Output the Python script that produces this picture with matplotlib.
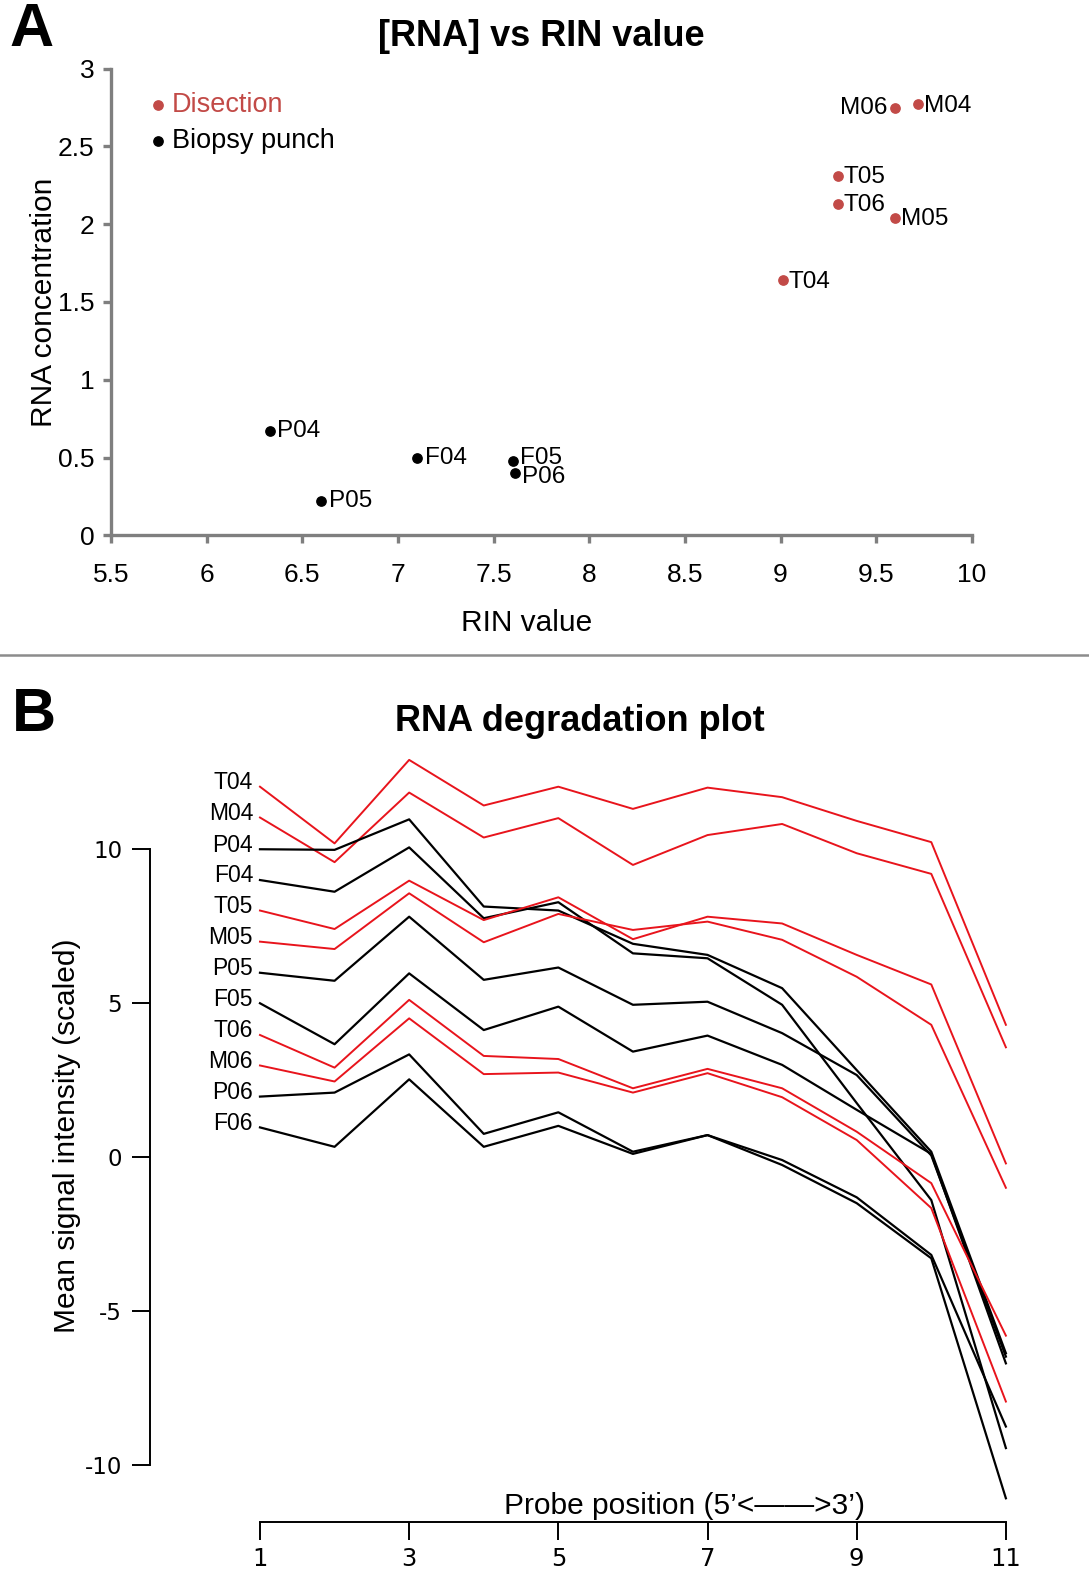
import matplotlib
matplotlib.use('Agg')
import matplotlib.pyplot as plt
from matplotlib.lines import Line2D

plt.rcParams['font.family'] = ['Liberation Sans', 'DejaVu Sans']
plt.rcParams['axes.unicode_minus'] = False

# ---- panel A: [RNA] vs RIN ----
diss_names = ['M06', 'M04', 'T05', 'T06', 'M05', 'T04']
diss_rin = [9.60, 9.72, 9.30, 9.30, 9.60, 9.01]
diss_conc = [2.75, 2.77, 2.31, 2.13, 2.04, 1.64]

punch_names = ['P04', 'F04', 'F05', 'P06', 'P05']
punch_rin = [6.33, 7.10, 7.60, 7.61, 6.60]
punch_conc = [0.67, 0.50, 0.48, 0.40, 0.22]

# ---- panel B: degradation plot ----
probe_pos = [1, 2, 3, 4, 5, 6, 7, 8, 9, 10, 11]
t04 = [12.02, 10.18, 12.89, 11.41, 12.02, 11.30, 11.99, 11.68, 10.91, 10.22, 4.29]
m04 = [11.02, 9.57, 11.83, 10.37, 11.00, 9.48, 10.45, 10.81, 9.86, 9.19, 3.56]
p04 = [9.99, 9.97, 10.96, 8.13, 8.00, 6.92, 6.56, 5.48, 2.82, 0.17, -6.37]
f04 = [8.99, 8.61, 10.05, 7.75, 8.27, 6.61, 6.45, 4.94, 1.75, -1.40, -9.45]
t05 = [8.00, 7.40, 8.97, 7.69, 8.43, 7.07, 7.80, 7.58, 6.56, 5.60, -0.21]
m05 = [6.99, 6.75, 8.56, 6.97, 7.89, 7.37, 7.64, 7.05, 5.85, 4.29, -1.00]
p05 = [5.98, 5.72, 7.80, 5.75, 6.15, 4.94, 5.04, 4.02, 2.66, 0.05, -6.48]
f05 = [4.99, 3.66, 5.96, 4.12, 4.88, 3.42, 3.94, 2.99, 1.53, 0.10, -6.70]
t06 = [3.96, 2.90, 5.10, 3.28, 3.18, 2.23, 2.86, 2.23, 0.82, -0.85, -5.80]
m06 = [2.97, 2.45, 4.50, 2.69, 2.74, 2.09, 2.72, 1.94, 0.55, -1.66, -7.94]
p06 = [1.96, 2.09, 3.33, 0.75, 1.45, 0.17, 0.71, -0.10, -1.31, -3.18, -8.75]
f06 = [0.96, 0.33, 2.52, 0.33, 1.01, 0.10, 0.71, -0.26, -1.50, -3.29, -11.08]

series = [('T04', t04), ('M04', m04), ('P04', p04), ('F04', f04),
          ('T05', t05), ('M05', m05), ('P05', p05), ('F05', f05),
          ('T06', t06), ('M06', m06), ('P06', p06), ('F06', f06)]

RED_A = '#c24a47'
RED_B = '#e8141c'
GREY = '#7f7f7f'

fig = plt.figure(figsize=(10.89, 15.70), dpi=100)

# ===== panel A =====
axA = fig.add_axes([0.1019, 0.659, 0.7906, 0.2973])
axA.scatter(diss_rin, diss_conc, s=45, color=RED_A, zorder=3, label='Disection')
axA.scatter(punch_rin, punch_conc, s=45, color='black', zorder=3, label='Biopsy punch')

for name, x, y in zip(diss_names, diss_rin, diss_conc):
    if name == 'M06':
        axA.annotate(name, (x, y), xytext=(-6, 0), textcoords='offset points',
                     ha='right', va='center', fontsize=17.5)
    else:
        axA.annotate(name, (x, y), xytext=(4, -1), textcoords='offset points',
                     ha='left', va='center', fontsize=17.5)
for name, x, y in zip(punch_names, punch_rin, punch_conc):
    dy = {'F05': 2, 'P06': -3}.get(name, 0)
    axA.annotate(name, (x, y), xytext=(5.5, dy), textcoords='offset points',
                 ha='left', va='center', fontsize=17.5)

axA.set_xlim(5.5, 10)
axA.set_ylim(0, 3)
axA.set_xticks([5.5, 6, 6.5, 7, 7.5, 8, 8.5, 9, 9.5, 10])
axA.set_xticklabels(['5.5', '6', '6.5', '7', '7.5', '8', '8.5', '9', '9.5', '10'])
axA.set_yticks([0, 0.5, 1, 1.5, 2, 2.5, 3])
axA.set_yticklabels(['0', '0.5', '1', '1.5', '2', '2.5', '3'])
for s in ['top', 'right']:
    axA.spines[s].set_visible(False)
for s in ['left', 'bottom']:
    axA.spines[s].set_color(GREY)
    axA.spines[s].set_linewidth(2.4)
axA.tick_params(axis='both', colors=GREY, labelcolor='black', labelsize=19,
                length=6, width=2.4)
axA.tick_params(axis='x', pad=14)
axA.tick_params(axis='y', pad=6)
axA.set_xlabel('RIN value', fontsize=21.5)
axA.xaxis.set_label_coords(0.483, -0.157)
axA.set_ylabel('RNA concentration', fontsize=21.5)
axA.yaxis.set_label_coords(-0.062, 0.5)
axA.set_title('[RNA] vs RIN value', fontsize=26, fontweight='bold', pad=16)
axA.legend(loc='upper left', bbox_to_anchor=(0.047, 0.95), frameon=False,
           fontsize=19.5, handlelength=0.5, handletextpad=0.25, borderpad=0,
           borderaxespad=0, labelspacing=0.38, markerscale=1.0,
           labelcolor=[RED_A, 'black'])

# separator line and panel letters
fig.add_artist(Line2D([0, 1], [0.5828, 0.5828], transform=fig.transFigure,
                      color='#8c8c8c', linewidth=1.8))
fig.text(0.009, 0.9985, 'A', fontsize=44, fontweight='bold', va='top', ha='left')
fig.text(0.011, 0.5625, 'B', fontsize=44, fontweight='bold', va='top', ha='left')

# ===== panel B =====
axB = fig.add_axes([0.1377, 0.03057, 0.7894, 0.4915])
for name, vals in series:
    col = RED_B if name[0] in 'TM' else 'black'
    lw = 1.4 if col == RED_B else 1.6
    axB.plot(probe_pos, vals, color=col, linewidth=lw)
    axB.annotate(name, (probe_pos[0], vals[0]), xytext=(-5, 3),
                 textcoords='offset points', ha='right', va='center',
                 fontsize=16.5)

axB.set_xlim(-0.475, 11.05)
axB.set_ylim(-11.85, 13.2)
for s in ['top', 'right']:
    axB.spines[s].set_visible(False)
axB.spines['left'].set_bounds(-10, 10)
axB.spines['bottom'].set_bounds(1, 11)
axB.spines['left'].set_linewidth(1.4)
axB.spines['bottom'].set_linewidth(1.4)
axB.set_yticks([-10, -5, 0, 5, 10])
axB.set_yticklabels(['-10', '-5', '0', '5', '10'], family='DejaVu Sans')
axB.set_xticks([1, 3, 5, 7, 9, 11])
axB.set_xticklabels(['1', '3', '5', '7', '9', '11'], family='DejaVu Sans')
axB.tick_params(axis='y', labelsize=16.5, length=13, width=1.4, pad=7)
axB.tick_params(axis='x', labelsize=17.5, length=13, width=1.4, pad=5)
axB.set_ylabel('Mean signal intensity (scaled)', fontsize=21.5)
axB.yaxis.set_label_coords(-0.08, 0.5)
axB.text(0.622, 0.002, 'Probe position (5’<——>3’)', transform=axB.transAxes,
         fontsize=21.5, ha='center', va='bottom')
axB.set_title('RNA degradation plot', fontsize=26, fontweight='bold', pad=14)

fig.savefig('out.png', dpi=100)
